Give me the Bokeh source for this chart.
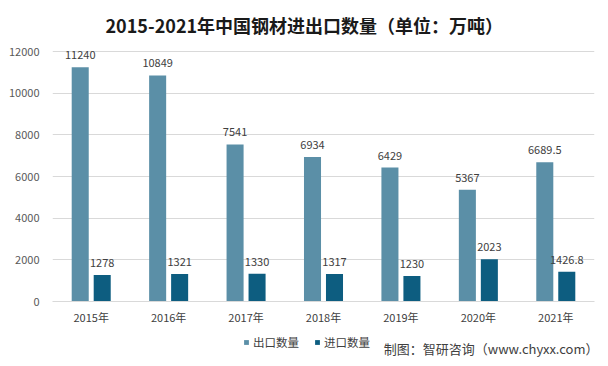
from bokeh.plotting import figure
from bokeh.layouts import column
from bokeh.models import (ColumnDataSource, FactorRange, Range1d, Legend, LegendItem,
                          SingleIntervalTicker, Label)
from bokeh.transform import dodge
from bokeh.core.properties import value
from bokeh.embed import file_html
from bokeh.resources import INLINE

years = ["2015年", "2016年", "2017年", "2018年", "2019年", "2020年", "2021年"]
export_qty = [11240, 10849, 7541, 6934, 6429, 5367, 6689.5]
import_qty = [1278, 1321, 1330, 1317, 1230, 2023, 1426.8]
export_lbl = ["11240", "10849", "7541", "6934", "6429", "5367", "6689.5"]
import_lbl = ["1278", "1321", "1330", "1317", "1230", "2023", "1426.8"]
series_names = ["出口数量", "进口数量"]
title_text = "2015-2021年中国钢材进出口数量（单位：万吨）"
source_text = "制图：智研咨询（www.chyxx.com）"

FONT = "Noto Sans CJK SC"
C_EXP = "#5B8FA7"
C_IMP = "#0D5D80"

src = ColumnDataSource(dict(year=years, exp=export_qty, imp=import_qty,
                            exp_l=export_lbl, imp_l=import_lbl))


def bare(height):
    f = figure(width=600, height=height, output_backend="svg", toolbar_location=None,
               x_range=Range1d(0, 1), y_range=Range1d(0, 1),
               x_axis_type=None, y_axis_type=None,
               min_border_left=0, min_border_right=0, min_border_top=0, min_border_bottom=0)
    f.frame_align = False
    f.outline_line_color = None
    f.grid.grid_line_color = None
    return f


# header with title
h = bare(40)
h.add_layout(Label(x=105, y=16, x_units="screen", y_units="screen", text=title_text,
                   text_align="left", text_baseline="middle",
                   text_font=FONT, text_font_size="18px", text_font_style="bold",
                   text_color="#1a1a1a"))

# main chart (top headroom above the 12000 gridline keeps the top data label unclipped)
p = figure(width=600, height=288, output_backend="svg", toolbar_location=None,
           x_range=FactorRange(factors=years, range_padding=0),
           y_range=Range1d(0, 12480),
           min_border_left=52, min_border_right=6, min_border_top=1, min_border_bottom=27)
p.outline_line_color = None
p.background_fill_color = "white"
p.border_fill_color = "white"

p.vbar(x=dodge("year", -0.142, range=p.x_range), top="exp", width=0.22, source=src,
       fill_color=C_EXP, line_color=None)
p.vbar(x=dodge("year", 0.142, range=p.x_range), top="imp", width=0.22, source=src,
       fill_color=C_IMP, line_color=None)

p.text(x=dodge("year", -0.142, range=p.x_range), y="exp", text="exp_l", source=src,
       text_align="center", text_baseline="bottom", y_offset=-8,
       text_font=value(FONT), text_font_size="11px", text_color="#404040")
p.text(x=dodge("year", 0.142, range=p.x_range), y="imp", text="imp_l", source=src,
       text_align="center", text_baseline="bottom", y_offset=-8,
       text_font=value(FONT), text_font_size="11px", text_color="#404040")

p.xgrid.grid_line_color = None
p.ygrid.grid_line_color = "#d9d9d9"
p.yaxis.ticker = SingleIntervalTicker(interval=2000)
p.yaxis.axis_line_color = None
p.yaxis.major_tick_line_color = None
p.yaxis.minor_tick_line_color = None
p.yaxis.major_label_standoff = 7
p.yaxis.major_label_text_font = FONT
p.yaxis.major_label_text_font_size = "11px"
p.yaxis.major_label_text_color = "#595959"

p.xaxis.axis_line_color = "#d9d9d9"
p.xaxis.major_tick_line_color = None
p.xaxis.minor_tick_line_color = None
p.xaxis.major_label_standoff = 1
p.xaxis.major_label_text_font = FONT
p.xaxis.major_label_text_font_size = "11px"
p.xaxis.major_label_text_color = "#404040"

# footer: legend + source note
f = figure(width=600, height=30, output_backend="svg", toolbar_location=None,
           x_range=p.x_range, y_range=Range1d(0, 12000),
           x_axis_type=None, y_axis_type=None,
           min_border_left=0, min_border_right=0, min_border_top=0, min_border_bottom=0)
f.frame_align = False
f.outline_line_color = None
f.grid.grid_line_color = None
g1 = f.vbar(x=dodge("year", -0.142, range=f.x_range), top="exp", width=0.22, source=src,
            fill_color=C_EXP, line_color=None, visible=False)
g2 = f.vbar(x=dodge("year", 0.142, range=f.x_range), top="imp", width=0.22, source=src,
            fill_color=C_IMP, line_color=None, visible=False)
legend = Legend(items=[LegendItem(label=series_names[0], renderers=[g1]),
                       LegendItem(label=series_names[1], renderers=[g2])],
                orientation="horizontal", location=(243, 8),
                padding=0, margin=0, spacing=15, label_standoff=4,
                glyph_width=6, glyph_height=6,
                label_text_font=FONT, label_text_font_size="11.5px",
                label_text_color="#404040", background_fill_alpha=0,
                border_line_color=None, inactive_fill_alpha=0)
f.add_layout(legend, "center")
f.add_layout(Label(x=598, y=10, x_units="screen", y_units="screen", text=source_text,
                   text_align="right", text_baseline="middle",
                   text_font=FONT, text_font_size="13px", text_color="#404040"))

layout = column(h, p, f, spacing=0)
open("out.html", "w").write(file_html(layout, INLINE))
